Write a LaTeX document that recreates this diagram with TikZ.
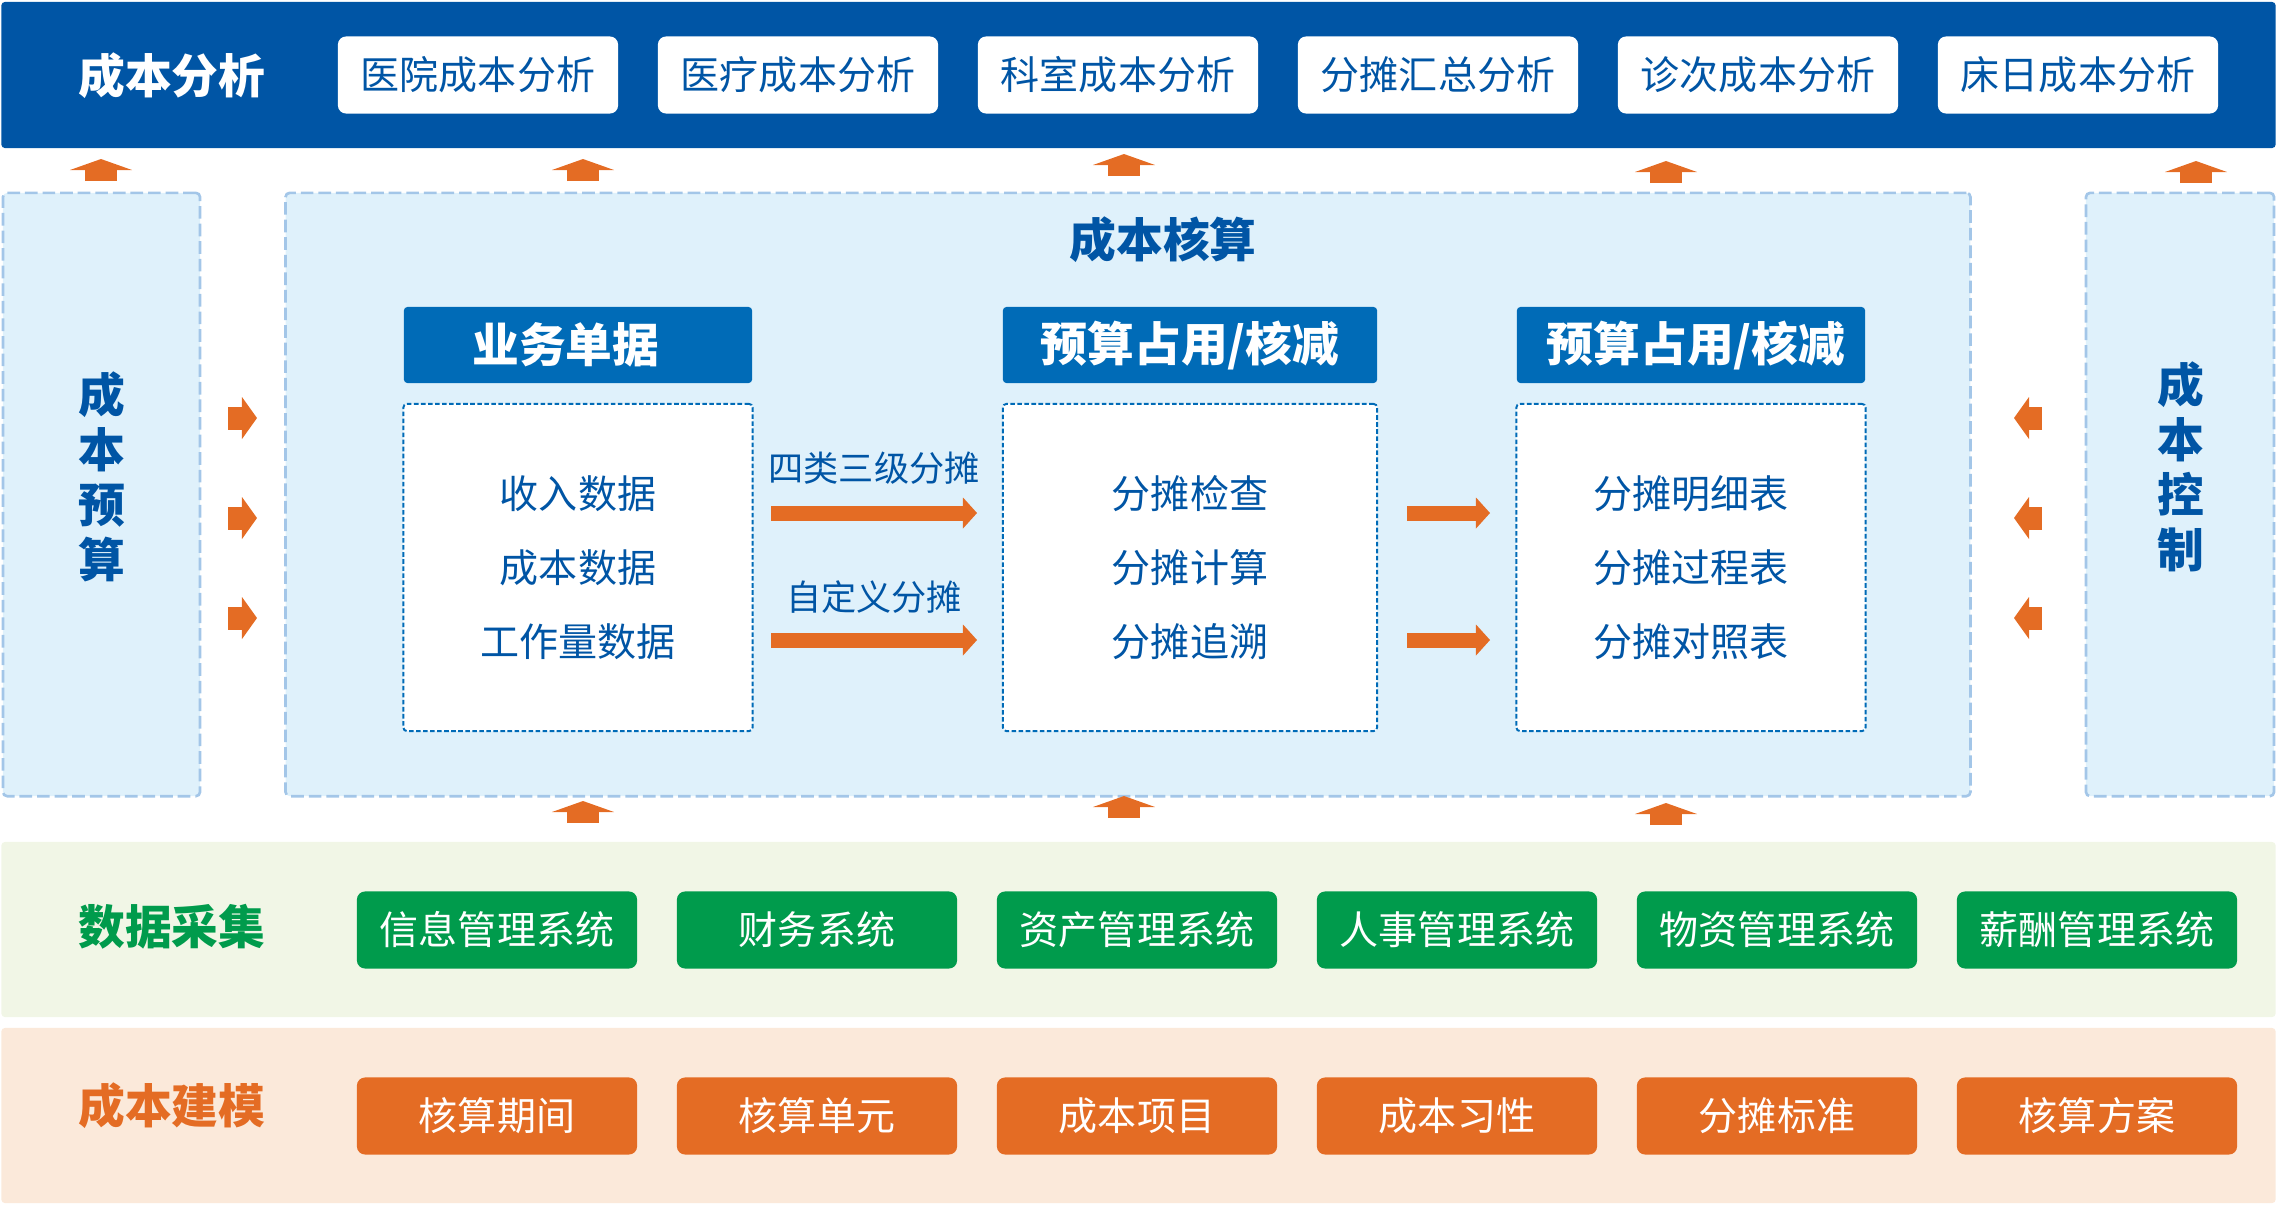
\documentclass[tikz,border=0pt]{standalone}
\usepackage{fontspec}
\setmainfont{Noto Sans CJK SC}
\usepackage{tikz}
\usetikzlibrary{arrows.meta}
\definecolor{costBlue}{HTML}{0055A5}
\definecolor{headBlue}{HTML}{006BB7}
\definecolor{panelFill}{HTML}{DFF1FB}
\definecolor{dashBlue}{HTML}{A3C6E8}
\definecolor{costOrange}{HTML}{E46C24}
\definecolor{costGreen}{HTML}{009B4C}
\definecolor{greenBg}{HTML}{F1F6E6}
\definecolor{orangeBg}{HTML}{FBE9DA}

\begin{document}
\begin{tikzpicture}[x=0.01cm, y=-0.01cm,
  every node/.style={inner sep=0pt, outer sep=0pt},
  big/.style={font=\bfseries\fontsize{13.3}{16}\selectfont},
  band/.style={rounded corners=1pt, minimum width=22.73cm, minimum height=1.75cm},
  anabox/.style={fill=white, rounded corners=2.3pt, minimum width=2.8cm, minimum height=0.77cm,
                 text=costBlue, font=\fontsize{11.1}{13}\selectfont},
  panel/.style={draw=dashBlue, fill=panelFill, line width=0.75pt, dash pattern=on 3.6pt off 1.4pt,
                rounded corners=1.2pt, minimum height=6.03cm},
  head/.style={fill=headBlue, rounded corners=1pt, minimum height=0.76cm, text=white, big},
  sheet/.style={draw=headBlue, fill=white, line width=0.55pt, dash pattern=on 1.3pt off 0.7pt,
                rounded corners=1pt, minimum height=3.27cm, align=center, text=costBlue,
                font=\fontsize{11.1}{21}\selectfont},
  sysbox/.style={fill=#1, rounded corners=2.3pt, minimum width=2.8cm, minimum height=0.77cm,
                 text=white, font=\fontsize{11.1}{13}\selectfont},
  lbl/.style={text=costBlue, font=\fontsize{10}{12}\selectfont},
  uparr/.style={draw=costOrange, line width=3.2mm, -{Triangle[width=6.2mm,length=1.1mm,line width=0pt]}},
  side/.style={draw=costOrange, line width=2.3mm, -{Triangle[width=4.2mm,length=1.5mm,line width=0pt]}},
  flow/.style={draw=costOrange, line width=1.5mm, -{Triangle[width=3.1mm,length=1.4mm,line width=0pt]}}
]
\useasboundingbox (0,0) rectangle (2277,1205);

\node[band, fill=costBlue, minimum height=1.46cm] (analysis) at (1138.5,75) {};
\node[big, text=white] (analysisLbl) at (172,76) {成本分析};
\foreach \t [count=\i] in {医院成本分析,医疗成本分析,科室成本分析,分摊汇总分析,诊次成本分析,床日成本分析}
  \node[anabox] (ana\i) at ({478+320*(\i-1)},75) {\t};

\node[panel, minimum width=1.97cm] (budget) at (101.5,494.5) {};
\node[big, text=costBlue, align=center, font=\bfseries\fontsize{13.3}{15.6}\selectfont] (budgetLbl) at (102,477) {成\\本\\预\\算};
\node[panel, minimum width=16.84cm] (calc) at (1128,494.5) {};
\node[big, text=costBlue] (calcLbl) at (1163,240) {成本核算};
\node[panel, minimum width=1.88cm] (control) at (2180,494.5) {};
\node[big, text=costBlue, align=center, font=\bfseries\fontsize{13.3}{15.6}\selectfont] (controlLbl) at (2181,467) {成\\本\\控\\制};

\node[head, minimum width=3.48cm] (billHead) at (578,345) {\hspace*{-0.24cm}业务单据};
\node[head, minimum width=3.74cm] (allocHead) at (1190,345) {预算占用/核减};
\node[head, minimum width=3.48cm] (reportHead) at (1691,345) {\hspace*{0.1cm}预算占用/核减};
\node[sheet, minimum width=3.49cm] (bill) at (578,567.5) {收入数据\\成本数据\\工作量数据};
\node[sheet, minimum width=3.74cm] (alloc) at (1190,567.5) {分摊检查\\分摊计算\\分摊追溯};
\node[sheet, minimum width=3.49cm] (report) at (1691,567.5) {分摊明细表\\分摊过程表\\分摊对照表};

\foreach \y [count=\i] in {513,640} {
  \coordinate (fa\i) at (771,\y);
  \coordinate (fb\i) at (977,\y);
  \coordinate (ga\i) at (1407,\y);
  \coordinate (gb\i) at (1490,\y);
  \draw[flow] (ga\i) -- (gb\i);
}
\draw[flow] (fa1) -- node[lbl, yshift=0.45cm] (splitA) {四类三级分摊} (fb1);
\draw[flow] (fa2) -- node[lbl, yshift=0.43cm] (splitB) {自定义分摊} (fb2);

\foreach \y [count=\i] in {418,518,618} {
  \coordinate (bs\i) at (228,\y);
  \coordinate (be\i) at (257,\y);
  \draw[side] (bs\i) -- (be\i);
  \coordinate (cs\i) at (2042,\y);
  \coordinate (ce\i) at (2014,\y);
  \draw[side] (cs\i) -- (ce\i);
}

\foreach \x/\y [count=\i] in {101/181,583/181,1124/176,1666/183,2196/183} {
  \coordinate (ub\i) at (\x,\y);
  \coordinate (ut\i) at (\x,\y-22);
  \draw[uparr] (ub\i) -- (ut\i);
}
\foreach \x/\y [count=\i] in {583/823,1124/818,1666/825} {
  \coordinate (db\i) at (\x,\y);
  \coordinate (dt\i) at (\x,\y-22);
  \draw[uparr] (db\i) -- (dt\i);
}

\node[band, fill=greenBg] (collect) at (1138.5,929.5) {};
\node[big, text=costGreen] (collectLbl) at (172,927) {数据采集};
\foreach \t [count=\i] in {信息管理系统,财务系统,资产管理系统,人事管理系统,物资管理系统,薪酬管理系统}
  \node[sysbox=costGreen] (sys\i) at ({497+320*(\i-1)},930) {\t};

\node[band, fill=orangeBg] (model) at (1138.5,1115.5) {};
\node[big, text=costOrange] (modelLbl) at (172,1106) {成本建模};
\foreach \t [count=\i] in {核算期间,核算单元,成本项目,成本习性,分摊标准,核算方案}
  \node[sysbox=costOrange] (mod\i) at ({497+320*(\i-1)},1116) {\t};
\end{tikzpicture}
\end{document}
